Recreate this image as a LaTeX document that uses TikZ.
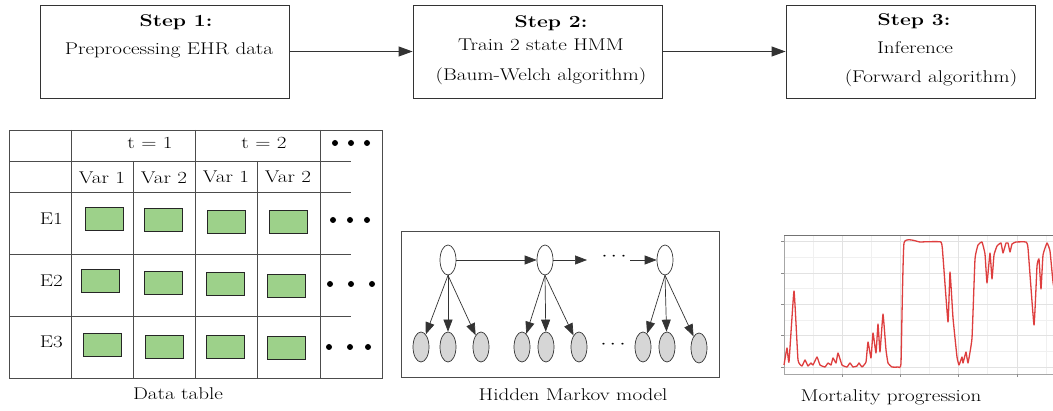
\documentclass[tikz,border=0pt]{standalone}
\usepackage{graphicx}
\usetikzlibrary{arrows.meta,shapes.geometric}
\definecolor{cellgreen}{RGB}{157,209,138}
\definecolor{obsgray}{RGB}{214,214,214}
\definecolor{curvered}{RGB}{222,62,62}
\definecolor{gridmaj}{RGB}{226,226,226}
\definecolor{gridmin}{RGB}{240,240,240}
\newcommand{\hs}[1]{\scalebox{1.24}[1]{#1}}
\tikzset{
  txt/.style={inner sep=0pt, font=\fontsize{17}{20}\selectfont},
  stepbox/.style={draw=black!80, line width=0.9pt, minimum width=249pt, minimum height=93pt, inner sep=0pt},
  gbox/.style={draw=black!85, fill=cellgreen, line width=0.9pt, minimum width=38pt, minimum height=23pt, inner sep=0pt},
  tline/.style={draw=black!70, line width=0.9pt},
  bigarrow/.style={draw=black!80, line width=0.9pt, -{Triangle[length=14pt,width=10pt]}},
  hmmarrow/.style={draw=black!80, line width=0.7pt, -{Triangle[length=12pt,width=9pt]}},
  hid/.style={ellipse, draw=black!80, fill=white, line width=0.7pt, minimum width=16pt, minimum height=30pt, inner sep=0pt},
  obs/.style={ellipse, draw=black!80, fill=obsgray, line width=0.7pt, minimum width=16pt, minimum height=30pt, inner sep=0pt},
  bigdot/.style={circle, fill=black, inner sep=0pt, minimum size=6pt},
}
\begin{document}
\begin{tikzpicture}[x=1pt,y=-1pt]
\useasboundingbox[fill=white] (0,0) rectangle (1053,411);

% ---------- Step boxes ----------
\node[stepbox] (s1) at (164.5,51.5) {};
\node[stepbox] (s2) at (537.5,51.5) {};
\node[stepbox] (s3) at (910.5,51.5) {};
\node[txt] (s1a) at (176,22) {\hs{\bfseries Step 1:}};
\node[txt] (s1b) at (169,50) {\hs{Preprocessing EHR data}};
\node[txt] (s2a) at (551,23) {\hs{\bfseries Step 2:}};
\node[txt] (s2b) at (541,45) {\hs{Train 2 state HMM}};
\node[txt] (s2c) at (541,76) {\hs{(Baum-Welch algorithm)}};
\node[txt] (s3a) at (914,21) {\hs{\bfseries Step 3:}};
\node[txt] (s3b) at (915,48) {\hs{Inference}};
\node[txt] (s3c) at (931,78) {\hs{(Forward algorithm)}};
\draw[bigarrow] (s1.east) -- (s2.west);
\draw[bigarrow] (s2.east) -- (s3.west);

% ---------- Data table ----------
\draw[tline] (9,130) rectangle (382,378);
\foreach \x in {71,195,320} \draw[tline] (\x,130) -- (\x,378);
\foreach \x in {133,257} \draw[tline] (\x,161) -- (\x,378);
\foreach \y in {161,192,254,316} \draw[tline] (9,\y) -- (351,\y);
\node[txt] (t1) at (150,143) {\hs{t = 1}};
\node[txt] (t2) at (264,143) {\hs{t = 2}};
\node[txt] (v1) at (102,178) {\hs{Var 1}};
\node[txt] (v2) at (164,178) {\hs{Var 2}};
\node[txt] (v3) at (226,177) {\hs{Var 1}};
\node[txt] (v4) at (288,177) {\hs{Var 2}};
\node[txt, anchor=east] (e1) at (63,219) {\hs{E1}};
\node[txt, anchor=east] (e2) at (63,281) {\hs{E2}};
\node[txt, anchor=east] (e3) at (63,342) {\hs{E3}};
% green cells
\node[gbox] (c11) at (104,219) {};
\node[gbox] (c12) at (163,220) {};
\node[gbox] (c13) at (226,222) {};
\node[gbox] (c14) at (288,222) {};
\node[gbox] (c21) at (100,281) {};
\node[gbox] (c22) at (163,283) {};
\node[gbox] (c23) at (225,284) {};
\node[gbox] (c24) at (286,286) {};
\node[gbox] (c31) at (102,345) {};
\node[gbox] (c32) at (164,347) {};
\node[gbox] (c33) at (225,347) {};
\node[gbox] (c34) at (286,348) {};
% dots
\node[bigdot] (d01) at (335,143) {};
\node[bigdot] (d02) at (351,143) {};
\node[bigdot] (d03) at (367,143) {};
\node[bigdot] (d11) at (333,220) {};
\node[bigdot] (d12) at (350,220) {};
\node[bigdot] (d13) at (367,220) {};
\node[bigdot] (d21) at (330,284) {};
\node[bigdot] (d22) at (351,284) {};
\node[bigdot] (d23) at (372,284) {};
\node[bigdot] (d31) at (329,347) {};
\node[bigdot] (d32) at (350,347) {};
\node[bigdot] (d33) at (368,347) {};
\node[txt] (cap1) at (178,394) {\hs{Data table}};

% ---------- HMM ----------
\draw[draw=black!70, line width=0.9pt] (401,231) rectangle (719,377);
\node[hid] (h1) at (448,260) {};
\node[hid] (h2) at (545,260) {};
\node[hid] (h3) at (665,260) {};
\coordinate (hx) at (587,260);
\coordinate (hy) at (630,260);
\node[txt] (hdots) at (614,257) {\hs{$\cdots$}};
\node[obs] (o11) at (421,347) {};
\node[obs] (o12) at (448,347) {};
\node[obs] (o13) at (481,347) {};
\node[obs] (o21) at (522,347) {};
\node[obs] (o22) at (546,347) {};
\node[obs] (o23) at (579,347) {};
\node[txt] (odots) at (613,345) {\hs{$\cdots$}};
\node[obs] (o31) at (643,347) {};
\node[obs] (o32) at (667,347) {};
\node[obs] (o33) at (699,348) {};
\draw[hmmarrow] (h1.east) -- (h2.west);
\draw[hmmarrow] (h2.east) -- (hx);
\draw[hmmarrow] (hy) -- (h3.west);
\foreach \h/\o in {h1/o11,h1/o12,h1/o13,h2/o21,h2/o22,h2/o23,h3/o31,h3/o32,h3/o33}
  \draw[hmmarrow] (\h.south) -- (\o);
\node[txt] (cap2) at (573,395) {\hs{Hidden Markov model}};

% ---------- Mortality plot ----------
\begin{scope}
\clip (779,230) rectangle (1053,380);
\fill[white] (784,236) rectangle (1060,374);
\foreach \y in {257,288,320,351} \draw[gridmin, line width=0.6pt] (784,\y) -- (1060,\y);
\foreach \x in {813,871,929,987,1046} \draw[gridmin, line width=0.6pt] (\x,236) -- (\x,374);
\foreach \y in {241,273,304,335,367} \draw[gridmaj, line width=0.8pt] (784,\y) -- (1060,\y);
\foreach \x in {842,900,958,1017} \draw[gridmaj, line width=0.8pt] (\x,236) -- (\x,374);
\draw[black!55, line width=1pt] (784,236) -- (1060,236);
\draw[black!35, line width=0.8pt] (784,236) -- (784,374) -- (1060,374);
\foreach \y in {241,273,304,335,367} \draw[black!45, line width=0.8pt] (781,\y) -- (784,\y);
\foreach \x in {842,900,958,1017} \draw[black!45, line width=0.8pt] (\x,374) -- (\x,377);
\draw[curvered, line width=1.3pt, line join=round] plot[smooth, tension=0.2] coordinates {
(784,365) (787,348) (789,362) (794,291) (798,360) (802,366) (805,360) (808,366)
(811,363) (813,365) (817,357) (820,365) (825,367) (828,363) (831,365) (833,358)
(836,363) (838,353) (842,365) (847,367) (850,363) (853,367) (857,366) (859,363)
(862,367) (866,362) (868,342) (871,358) (873,333) (876,353) (878,324) (880,352)
(883,314) (886,350) (888,363) (892,367) (898,367) (901,363) (904,243) (920,242)
(941,242) (943,257) (948,322) (950,272) (953,318) (957,357) (959,365) (962,357)
(963,363) (966,352) (968,363) (972,338) (975,259) (978,245) (982,242) (985,254)
(987,283) (990,253) (992,279) (994,255) (997,246) (1001,243) (1003,253) (1006,243)
(1008,243) (1010,252) (1012,244) (1016,242) (1026,242) (1028,248) (1034,325)
(1037,266) (1039,259) (1041,289) (1043,255) (1047,243) (1050,251) (1053,282) (1056,300)};
\end{scope}
\node[txt] (cap3) at (891,397) {\hs{Mortality progression}};
\end{tikzpicture}
\end{document}
